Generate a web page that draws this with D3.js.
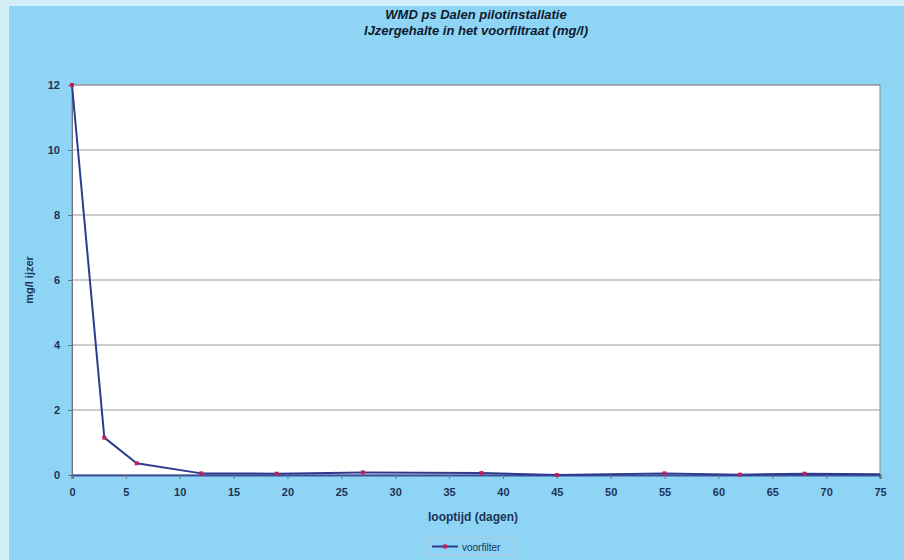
<!DOCTYPE html>
<html>
<head>
<meta charset="utf-8">
<script src="https://cdn.jsdelivr.net/npm/d3@7"></script>
<style>
  body { margin: 0; background: #d3edf9; }
  svg { display: block; font-family: "Liberation Sans", Arial, sans-serif; }
</style>
</head>
<body>
<div class="chart-area"></div>
<script>
// ---- Data ----
const days = [0, 3, 6, 12, 19, 27, 38, 45, 55, 62, 68, 75];
const iron = [12, 1.15, 0.36, 0.05, 0.04, 0.08, 0.06, 0.0, 0.05, 0.01, 0.04, 0.02];
const xTicks = [0, 5, 10, 15, 20, 25, 30, 35, 40, 45, 50, 55, 60, 65, 70, 75];
const yTicks = [0, 2, 4, 6, 8, 10, 12];
const titleLines = ["WMD ps Dalen pilotinstallatie", "IJzergehalte in het voorfiltraat (mg/l)"];
const seriesName = "voorfilter";

const data = days.map((d, i) => ({ x: d, y: iron[i] }));

// ---- Sizes ----
const width = 904, height = 560;
const plot = { left: 72, top: 85, right: 880, bottom: 475 };
const textColor = "#1f3358";

const svg = d3.select(".chart-area").append("svg")
    .attr("width", width)
    .attr("height", height);

// background: light frame + blue panel
svg.append("rect").attr("width", width).attr("height", height).attr("fill", "#d3edf9");
svg.append("rect").attr("x", 9).attr("y", 6)
    .attr("width", width - 9).attr("height", height - 6)
    .attr("fill", "#8ed5f5");

// scales
const x = d3.scaleLinear().domain([0, 75]).range([plot.left, plot.right]);
const y = d3.scaleLinear().domain([0, 12]).range([plot.bottom, plot.top]);

// plot area
svg.append("rect")
    .attr("x", plot.left).attr("y", plot.top)
    .attr("width", plot.right - plot.left).attr("height", plot.bottom - plot.top)
    .attr("fill", "#ffffff")
    .attr("stroke", "#8a8f96")
    .attr("stroke-width", 1);

// gridlines
svg.append("g")
    .selectAll("line")
    .data(yTicks.filter(d => d > 0))
    .join("line")
    .attr("x1", plot.left).attr("x2", plot.right)
    .attr("y1", d => y(d)).attr("y2", d => y(d))
    .attr("stroke", "#9a9a9a")
    .attr("stroke-width", 1);

// y axis
const yAxis = svg.append("g")
    .attr("transform", `translate(${plot.left},0)`)
    .call(d3.axisLeft(y).tickValues(yTicks).tickSize(4).tickPadding(8).tickFormat(d3.format("d")));
yAxis.select(".domain").attr("stroke", "#6d7580");
yAxis.selectAll(".tick line").attr("stroke", "#6d7580");
yAxis.selectAll("text").attr("fill", textColor).style("font-size", "11px").style("font-weight", "bold");

// x axis
const xAxis = svg.append("g")
    .attr("transform", `translate(0,${plot.bottom})`)
    .call(d3.axisBottom(x).tickValues(xTicks).tickSize(4).tickPadding(9).tickFormat(d3.format("d")));
xAxis.select(".domain").attr("stroke", "#3b4f9a").attr("stroke-width", 2);
xAxis.selectAll(".tick line").attr("stroke", "#6d7580");
xAxis.selectAll("text").attr("fill", textColor).style("font-size", "11px").style("font-weight", "bold");

// line
const line = d3.line().x(d => x(d.x)).y(d => y(d.y));
svg.append("path")
    .datum(data)
    .attr("d", line)
    .attr("fill", "none")
    .attr("stroke", "#2d3b8e")
    .attr("stroke-width", 2)
    .attr("stroke-linejoin", "round");

// markers
svg.append("g")
    .selectAll("rect")
    .data(data.slice(0, -1))
    .join("rect")
    .attr("x", d => x(d.x) - 2)
    .attr("y", d => y(d.y) - 2)
    .attr("width", 4).attr("height", 4)
    .attr("fill", "#c0205a");

// titles
svg.append("g")
    .selectAll("text")
    .data(titleLines)
    .join("text")
    .attr("x", 476)
    .attr("y", (d, i) => 19 + i * 16)
    .attr("text-anchor", "middle")
    .attr("fill", "#111a2e")
    .style("font-size", "13px")
    .style("font-weight", "bold")
    .style("font-style", "italic")
    .text(d => d);

// axis titles
svg.append("text")
    .attr("transform", `translate(33,${(plot.top + plot.bottom) / 2}) rotate(-90)`)
    .attr("text-anchor", "middle")
    .attr("fill", textColor)
    .style("font-size", "11px")
    .style("font-weight", "bold")
    .text("mg/l ijzer");

svg.append("text")
    .attr("x", 473)
    .attr("y", 521)
    .attr("text-anchor", "middle")
    .attr("fill", textColor)
    .style("font-size", "12px")
    .style("font-weight", "bold")
    .text("looptijd (dagen)");

// legend
const legend = svg.append("g").attr("transform", "translate(426,538)");
legend.append("rect")
    .attr("width", 90).attr("height", 17)
    .attr("fill", "#8ed5f5")
    .attr("stroke", "#b8c6d0");
legend.append("line")
    .attr("x1", 6).attr("x2", 32).attr("y1", 8.5).attr("y2", 8.5)
    .attr("stroke", "#2d3b8e").attr("stroke-width", 2);
legend.append("rect")
    .attr("x", 17).attr("y", 6.5).attr("width", 4).attr("height", 4)
    .attr("fill", "#c0205a");
legend.append("text")
    .attr("x", 36).attr("y", 12.5)
    .attr("fill", textColor)
    .style("font-size", "10px")
    .text(seriesName);
</script>
</body>
</html>
